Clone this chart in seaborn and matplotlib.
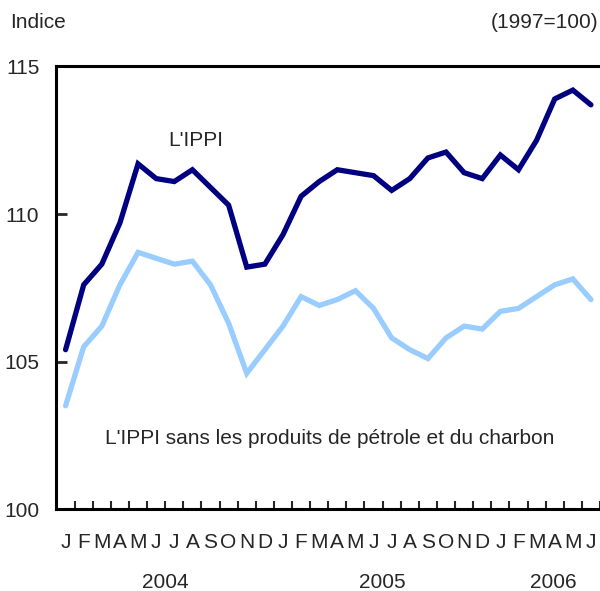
import numpy as np
import pandas as pd
import seaborn as sns
import matplotlib.pyplot as plt
import matplotlib.transforms as mtransforms

# monthly values, Jan 2004 - Jun 2006
month_letters = ['J', 'F', 'M', 'A', 'M', 'J', 'J', 'A', 'S', 'O', 'N', 'D'] * 2 + ['J', 'F', 'M', 'A', 'M', 'J']
years = ['2004', '2005', '2006']
ippi = [105.4, 107.6, 108.3, 109.7, 111.7, 111.2, 111.1, 111.5, 110.9, 110.3, 108.2, 108.3,
        109.3, 110.6, 111.1, 111.5, 111.4, 111.3, 110.8, 111.2, 111.9, 112.1, 111.4, 111.2,
        112.0, 111.5, 112.5, 113.9, 114.2, 113.7]
ippi_sans = [103.5, 105.5, 106.2, 107.6, 108.7, 108.5, 108.3, 108.4, 107.6, 106.3, 104.6, 105.4,
             106.2, 107.2, 106.9, 107.1, 107.4, 106.8, 105.8, 105.4, 105.1, 105.8, 106.2, 106.1,
             106.7, 106.8, 107.2, 107.6, 107.8, 107.1]

sns.set_style('white')
plt.rcParams['font.family'] = ['Liberation Sans', 'DejaVu Sans']
fs = 15

n = len(ippi)
df = pd.DataFrame({
    'mois': list(range(n)) * 2,
    'valeur': ippi + ippi_sans,
    'serie': ['ippi'] * n + ['sans'] * n,
})

fig = plt.figure(figsize=(6, 5.91), dpi=100)
ax = fig.add_axes([0.0933, 0.1387, 0.9067, 0.7488])

sns.lineplot(data=df, x='mois', y='valeur', hue='serie',
             palette={'ippi': '#000080', 'sans': '#99ccff'},
             linewidth=3.8, legend=False, ax=ax)
for l in ax.lines:
    l.set_solid_joinstyle('miter')

ax.set_xlim(-0.53, 29.2)
ax.set_ylim(100, 115)
ax.set_xlabel('')
ax.set_ylabel('')

ax.set_yticks([100, 105, 110, 115])
ax.tick_params(axis='y', direction='in', length=8, width=2, pad=12, labelsize=fs, left=True)
ax.set_xticks(range(n))
ax.set_xticklabels(month_letters)
ax.set_xticks(np.arange(0.5, n, 1), minor=True)
ax.tick_params(axis='x', which='major', length=0, pad=17, labelsize=fs)
ax.tick_params(axis='x', which='minor', direction='in', length=6, width=1.5, bottom=True)

for s in ['left', 'bottom', 'top']:
    ax.spines[s].set_linewidth(2.2)
    ax.spines[s].set_color('black')
ax.spines['right'].set_visible(False)
ax.grid(False)

ax.text(7.17, 112.5, "L'IPPI", fontsize=fs, ha='center', va='center')
ax.text(14.6, 102.4, "L'IPPI sans les produits de pétrole et du charbon",
        fontsize=fs, ha='center', va='center')

# year labels under the month letters
trans = mtransforms.blended_transform_factory(ax.transData, fig.transFigure)
for pos, yr in zip([5.5, 17.5, 26.9], years):
    ax.text(pos, 1 - 582 / 591, yr, fontsize=fs, ha='center', va='center', transform=trans)

fig.text(10 / 600, 1 - 22 / 591, 'Indice', fontsize=fs, ha='left', va='center')
fig.text(598 / 600, 1 - 22 / 591, '(1997=100)', fontsize=fs, ha='right', va='center')

fig.savefig('out.png', dpi=100, facecolor='white')
